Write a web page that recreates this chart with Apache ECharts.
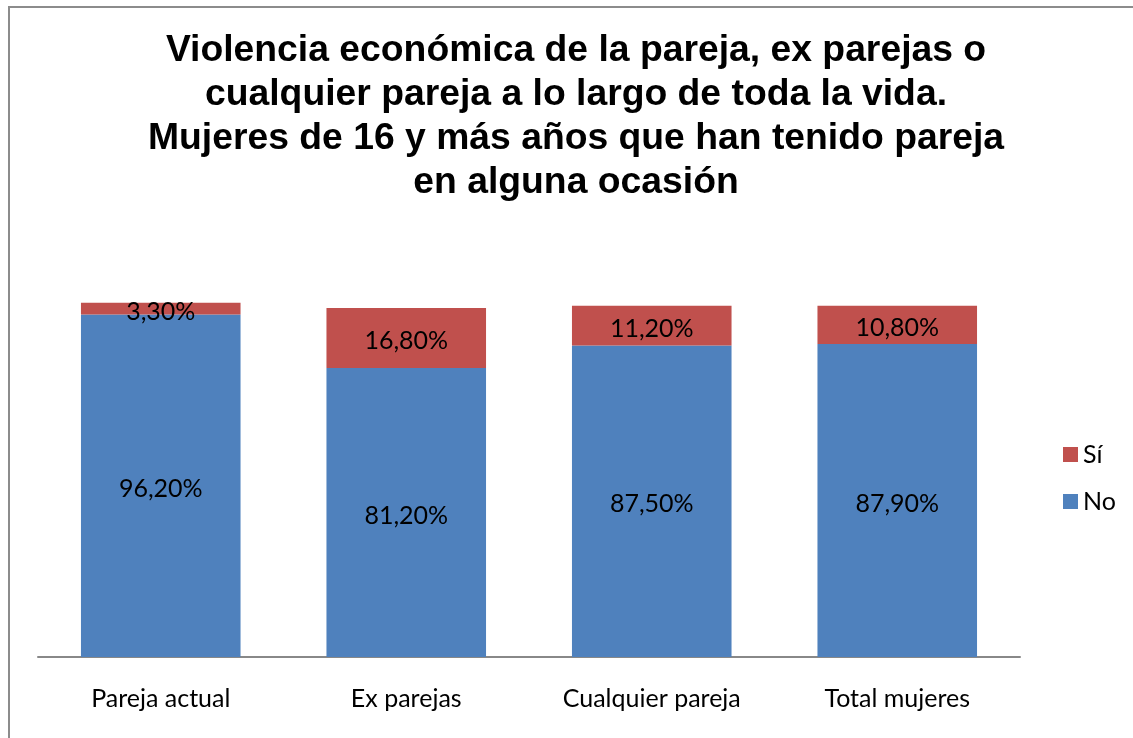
<!DOCTYPE html>
<html>
<head>
<meta charset="utf-8">
<script src="https://cdn.jsdelivr.net/npm/echarts@6/dist/echarts.min.js"></script>
<style>
  html, body { margin: 0; padding: 0; background: #fff; }
  #frame { position: absolute; left: 8px; top: 6px; width: 1140px; height: 750px;
           border-left: 2px solid #8c8c8c; border-top: 2px solid #8c8c8c; }
  #chart { position: absolute; left: 0; top: 0; width: 1133px; height: 738px; }
</style>
</head>
<body>
<div id="frame"></div>
<div id="chart"></div>
<script>
  var categories = ['Pareja actual', 'Ex parejas', 'Cualquier pareja', 'Total mujeres'];
  var noValues = [96.2, 81.2, 87.5, 87.9];
  var siValues = [3.3, 16.8, 11.2, 10.8];

  var labelFont = 'Lato, "Open Sans", sans-serif';

  // 96.2 -> "96,20%"
  function pct(p) {
    return p.value.toFixed(2).replace('.', ',') + '%';
  }

  var chart = echarts.init(document.getElementById('chart'));

  chart.setOption({
    animation: false,
    title: {
      text: 'Violencia económica de la pareja, ex parejas o\ncualquier pareja a lo largo de toda la vida.\nMujeres de 16 y más años que han tenido pareja\nen alguna ocasión',
      left: 571,
      top: 24,
      textAlign: 'center',
      textStyle: {
        fontFamily: '"Liberation Sans", Arial, sans-serif',
        fontWeight: 'bold',
        fontSize: 37.3,
        lineHeight: 44,
        color: '#000'
      }
    },
    legend: {
      orient: 'vertical',
      left: 1058,
      top: 437,
      itemWidth: 15,
      itemHeight: 15,
      itemGap: 22,
      icon: 'rect',
      data: ['Sí', 'No'],
      textStyle: { fontFamily: labelFont, fontSize: 25, lineHeight: 25, color: '#000' }
    },
    grid: { left: 38, right: 113, top: 301, bottom: 81 },
    xAxis: {
      type: 'category',
      data: categories,
      axisLine: { lineStyle: { color: '#888', width: 2 } },
      axisTick: { show: false },
      axisLabel: { fontFamily: labelFont, fontSize: 25, color: '#000', margin: 29 }
    },
    yAxis: {
      type: 'value',
      min: 0,
      max: 100,
      show: false,
      splitLine: { show: false }
    },
    series: [
      {
        name: 'No',
        type: 'bar',
        stack: 'total',
        barCategoryGap: '35%',
        data: noValues,
        itemStyle: { color: '#4F81BD' },
        label: { show: true, position: 'inside', formatter: pct, offset: [0, 3],
                 fontFamily: labelFont, fontSize: 25, color: '#000' }
      },
      {
        name: 'Sí',
        type: 'bar',
        stack: 'total',
        data: siValues,
        itemStyle: { color: '#C0504D' },
        label: { show: true, position: 'inside', formatter: pct, offset: [0, 3],
                 fontFamily: labelFont, fontSize: 25, color: '#000' }
      }
    ]
  });
</script>
</body>
</html>
